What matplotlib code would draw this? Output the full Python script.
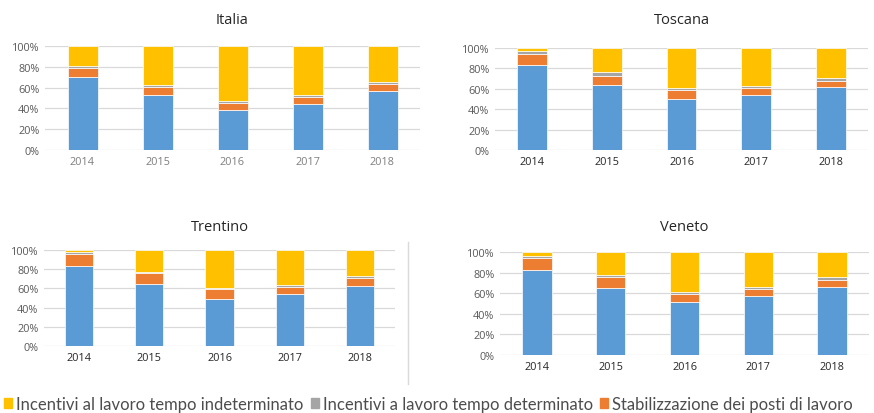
import matplotlib
matplotlib.use("Agg")
import matplotlib.pyplot as plt
from matplotlib.patches import Patch
from matplotlib.lines import Line2D
from matplotlib.ticker import PercentFormatter

years = ["2014", "2015", "2016", "2017", "2018"]
series = ["Contratti a tempo indeterminato",
          "Stabilizzazione dei posti di lavoro",
          "Incentivi a lavoro tempo determinato",
          "Incentivi al lavoro tempo indeterminato"]
colors = ["#5B9BD5", "#ED7D31", "#A5A5A5", "#FFC000"]

# shares (%) bottom -> top: blue, orange, grey, yellow
italia_blue = [70, 52.5, 38.5, 44, 56.5]
italia_orange = [9, 8.5, 7, 6.5, 6.5]
italia_grey = [2, 1.5, 2, 2.5, 2]
italia_yellow = [19, 37.5, 52.5, 47, 35]

toscana_blue = [83, 63.5, 50, 53.5, 61.5]
toscana_orange = [11.5, 9.5, 8.5, 7, 6.5]
toscana_grey = [3, 3, 2, 2.5, 2.5]
toscana_yellow = [2.5, 24, 39.5, 37, 29.5]

trentino_blue = [83, 64.5, 49, 54, 62.5]
trentino_orange = [12.5, 11.5, 10, 7.5, 8]
trentino_grey = [2, 1.5, 1.5, 2, 2.5]
trentino_yellow = [2.5, 22.5, 39.5, 36.5, 27]

veneto_blue = [83, 65.5, 51, 57, 66]
veneto_orange = [11.5, 10.5, 8.5, 7.5, 7]
veneto_grey = [2, 1.5, 1.5, 2, 2.5]
veneto_yellow = [3.5, 22.5, 39, 33.5, 24.5]

W, H = 874, 414
fig = plt.figure(figsize=(W / 100, H / 100), dpi=100)
FONT = ["Open Sans", "DejaVu Sans"]


def px_axes(left, top, right, bottom):
    return fig.add_axes([left / W, 1 - bottom / H, (right - left) / W, (bottom - top) / H])


def panel(box, title, title_y, stacks, xtick_color):
    ax = px_axes(*box)
    x = list(range(len(years)))
    bottom = [0] * len(years)
    for vals, c in zip(stacks, colors):
        ax.bar(x, vals, bottom=bottom, width=0.4, color=c, edgecolor="white",
               linewidth=0.5, zorder=3)
        bottom = [b + v for b, v in zip(bottom, vals)]
    ax.set_xlim(-0.5, len(years) - 0.5)
    ax.set_ylim(0, 100)
    ax.set_yticks(range(0, 101, 20))
    ax.yaxis.set_major_formatter(PercentFormatter(decimals=0))
    ax.set_xticks(x)
    ax.set_xticklabels(years)
    ax.grid(axis="y", color="#D9D9D9", lw=0.9, zorder=0)
    for s in ax.spines.values():
        s.set_visible(False)
    ax.tick_params(length=0, labelsize=7.8, pad=4)
    for lab in ax.get_yticklabels():
        lab.set_color("#595959"); lab.set_family(FONT)
    for lab in ax.get_xticklabels():
        lab.set_color(xtick_color); lab.set_family(FONT)
    l, t, r, b = box
    fig.text((l + r) / 2 / W, 1 - title_y / H, title, ha="center", va="center",
             fontsize=10.5, color="#262626", family=FONT)
    return ax


panel((45, 47, 420, 151), "Italia", 20,
      [italia_blue, italia_orange, italia_grey, italia_yellow], "#7F7F7F")
panel((495, 49, 868, 151), "Toscana", 20,
      [toscana_blue, toscana_orange, toscana_grey, toscana_yellow], "#262626")
panel((44, 251, 395, 347), "Trentino", 228,
      [trentino_blue, trentino_orange, trentino_grey, trentino_yellow], "#262626")
panel((500, 253, 869, 356), "Veneto", 228,
      [veneto_blue, veneto_orange, veneto_grey, veneto_yellow], "#262626")

# separator line right of the Trentino panel
fig.add_artist(Line2D([408 / W, 408 / W], [1 - 243 / H, 1 - 385 / H],
                      color="#D9D9D9", lw=1))

handles = [Patch(color=colors[3]), Patch(color=colors[2]), Patch(color=colors[1])]
labels = [series[3], series[2], series[1]]
fig.legend(handles, labels, loc="center left", bbox_to_anchor=(4 / W, 1 - 405 / H),
           ncol=3, frameon=False, handlelength=0.5, handleheight=0.5,
           handletextpad=0.25, columnspacing=0.4, borderaxespad=0, borderpad=0,
           prop={"family": ["Lato", "DejaVu Sans"], "size": 12},
           labelcolor="#4D4D4D")

fig.savefig("out.png", dpi=100)
